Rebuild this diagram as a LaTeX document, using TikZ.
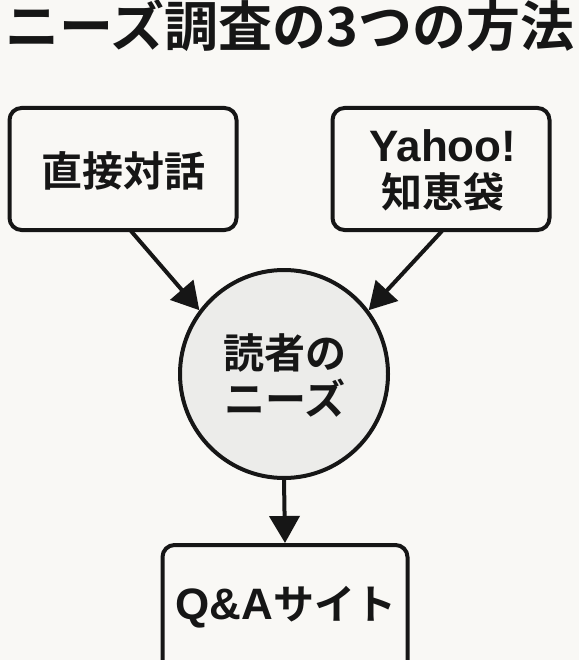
\documentclass[tikz,border=0pt]{standalone}
\usepackage{fontspec}
\setmainfont{Noto Sans CJK JP}[BoldFont={* Bold}]
\newfontfamily\latinfont{Liberation Sans}
\newcommand{\lat}[1]{{\latinfont\bfseries\fontsize{44}{46}\selectfont #1}}
\usetikzlibrary{arrows.meta}
\definecolor{bg}{HTML}{F9F8F5}
\definecolor{circfill}{HTML}{ECECEA}
\definecolor{ink}{HTML}{161616}
\begin{document}
\begin{tikzpicture}[x=1pt,y=-1pt,
  boxstyle/.style={draw=ink, line width=4pt, rounded corners=12pt, fill=bg},
  lbl/.style={font=\bfseries\fontsize{41}{46}\selectfont, text=ink, align=center},
  conn/.style={draw=ink, line width=4pt, -{Triangle[length=27pt,width=30pt]}}]
\path[fill=bg] (0,0) rectangle (579,660);
\useasboundingbox (0,0) rectangle (579,660);
\node[font=\bfseries\fontsize{54}{60}\selectfont, text=ink] (title) at (290,26) {ニーズ調査の3つの方法};
\node[boxstyle, minimum width=227pt, minimum height=122pt] (direct) at (123,169) {};
\node[lbl] at (123,171) {直接対話};
\node[boxstyle, minimum width=217pt, minimum height=122pt] (yahoo) at (441,169) {};
\node[lbl] at (443,170) {\lat{Yahoo!}\\知恵袋};
\node[draw=ink, line width=4pt, circle, minimum size=208pt, fill=circfill] (needs) at (284,374) {};
\node[lbl] at (285,375) {読者の\\ニーズ};
\node[boxstyle, minimum width=245pt, minimum height=130pt] (qa) at (285,610) {};
\node[lbl] at (286,607) {\lat{Q\&A}サイト};
\coordinate (ls) at (131,231);
\coordinate (rs) at (442,231);
\draw[conn] (ls) -- (needs.143);
\draw[conn] (rs) -- (needs.37);
\draw[conn] (needs.south) -- (qa.north);
\end{tikzpicture}
\end{document}
